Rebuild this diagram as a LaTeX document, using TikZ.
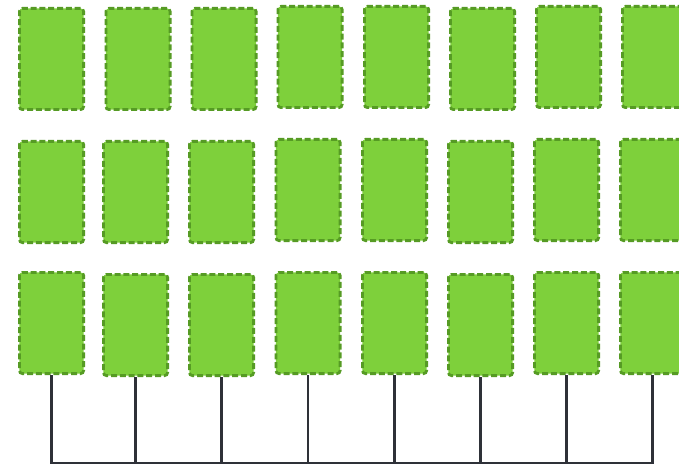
\documentclass[tikz,border=0pt]{standalone}
\begin{document}
\begin{tikzpicture}[x=1pt,y=-1pt,
  cell/.style={draw=boxedge, fill=boxfill, dash pattern=on 6pt off 2.8pt, line width=2.8pt, rounded corners=3pt, minimum width=64.2pt, minimum height=101.2pt, inner sep=0pt},
  link/.style={draw=linkcol, line width=2.2pt}]
\definecolor{boxfill}{RGB}{126,208,59}
\definecolor{boxedge}{RGB}{86,155,36}
\definecolor{linkcol}{RGB}{46,49,56}
\useasboundingbox (0,0) rectangle (679,465);
% row 1
\node[cell] (a1) at (51.5,59) {};
\node[cell] (a2) at (138,59) {};
\node[cell] (a3) at (224,59) {};
\node[cell] (a4) at (310,57) {};
\node[cell] (a5) at (396.5,57) {};
\node[cell] (a6) at (482.5,59) {};
\node[cell] (a7) at (568.5,57) {};
\node[cell] (a8) at (654.5,57) {};
% row 2
\node[cell] (b1) at (51.5,192) {};
\node[cell] (b2) at (135.5,192) {};
\node[cell] (b3) at (221.5,192) {};
\node[cell] (b4) at (308,190) {};
\node[cell] (b5) at (394.5,190) {};
\node[cell] (b6) at (480.5,192) {};
\node[cell] (b7) at (566.5,190) {};
\node[cell] (b8) at (652.5,190) {};
% row 3
\node[cell] (c1) at (51.5,323) {};
\node[cell] (c2) at (135.5,325) {};
\node[cell] (c3) at (221.5,325) {};
\node[cell] (c4) at (308,323) {};
\node[cell] (c5) at (394.5,323) {};
\node[cell] (c6) at (480.5,325) {};
\node[cell] (c7) at (566.5,323) {};
\node[cell] (c8) at (652.5,323) {};
\coordinate (bus) at (0,463);
\foreach \i in {1,...,8} {
  \draw[link] (c\i.south) -- (c\i.south |- bus);
}
\draw[link, line cap=rect] (c1.south |- bus) -- (c8.south |- bus);
\end{tikzpicture}
\end{document}
